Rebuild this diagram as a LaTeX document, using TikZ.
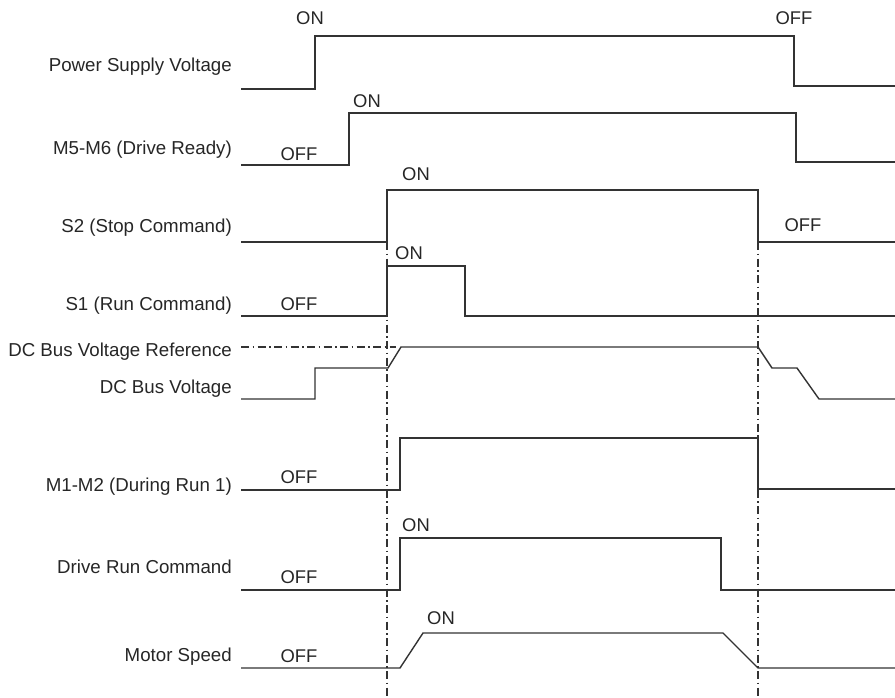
\documentclass[tikz,border=0pt]{standalone}
\usepackage{fontspec}
\setmainfont{Liberation Sans}
\definecolor{wave}{HTML}{333333}
\definecolor{txt}{HTML}{262626}
\begin{document}
\begin{tikzpicture}[x=1pt,y=-1pt,
  sig/.style={draw=wave,line width=1.4pt,line join=miter},
  guide/.style={draw=wave,line width=1.1pt,dash pattern=on 8pt off 3.5pt on 1.5pt off 3.5pt},
  lbl/.style={anchor=base east,inner sep=0pt,text=txt,font=\fontsize{18.7}{20}\selectfont},
  st/.style={anchor=base,inner sep=0pt,text=txt,font=\fontsize{18.4}{20}\selectfont}]
\useasboundingbox (0,0) rectangle (895,698);
% labels
\node[lbl] (l1) at (232,72) {Power Supply Voltage};
\node[lbl] (l2) at (232,155) {M5-M6 (Drive Ready)};
\node[lbl] (l3) at (232,233) {S2 (Stop Command)};
\node[lbl] (l4) at (232,310) {S1 (Run Command)};
\node[lbl] (l5) at (232,356) {DC Bus Voltage Reference};
\node[lbl] (l6) at (232,393) {DC Bus Voltage};
\node[lbl] (l7) at (232,491) {M1-M2 (During Run 1)};
\node[lbl] (l8) at (232,573) {Drive Run Command};
\node[lbl] (l9) at (232,661) {Motor Speed};
% state labels
\node[st] (s1) at (310,25) {ON};
\node[st] (s2) at (794,25) {OFF};
\node[st] (s3) at (367,108) {ON};
\node[st] (s4) at (299,161) {OFF};
\node[st] (s5) at (416,181) {ON};
\node[st] (s6) at (803,232) {OFF};
\node[st] (s7) at (409,259) {ON};
\node[st] (s8) at (299,310) {OFF};
\node[st] (s9) at (299,483) {OFF};
\node[st] (s10) at (416,531) {ON};
\node[st] (s11) at (299,583) {OFF};
\node[st] (s12) at (441,624) {ON};
\node[st] (s13) at (299,662) {OFF};
% guide lines
\draw[guide] (387,242) -- (387,698);
\draw[guide] (758,242) -- (758,698);
\draw[guide] (241,347) -- (396,347);
% waveforms
\draw[sig] (241,89) -- (315,89) -- (315,36) -- (794,36) -- (794,86) -- (895,86);
\draw[sig] (241,165) -- (349,165) -- (349,113) -- (796,113) -- (796,162) -- (895,162);
\draw[sig] (241,242) -- (387,242) -- (387,190) -- (758,190) -- (758,242) -- (895,242);
\draw[sig] (241,316) -- (387,316) -- (387,266) -- (465,266) -- (465,316) -- (895,316);
\draw[sig] (241,399) -- (315,399) -- (315,368) -- (388,368) -- (401,347) -- (758,347) -- (772,368) -- (797,368) -- (819,399) -- (895,399);
\draw[sig] (241,490) -- (400,490) -- (400,438) -- (758,438) -- (758,489) -- (895,489);
\draw[sig] (241,590) -- (400,590) -- (400,538) -- (721,538) -- (721,590) -- (895,590);
\draw[sig] (241,668) -- (400,668) -- (423,633) -- (723,633) -- (758,668) -- (895,668);
\end{tikzpicture}
\end{document}
